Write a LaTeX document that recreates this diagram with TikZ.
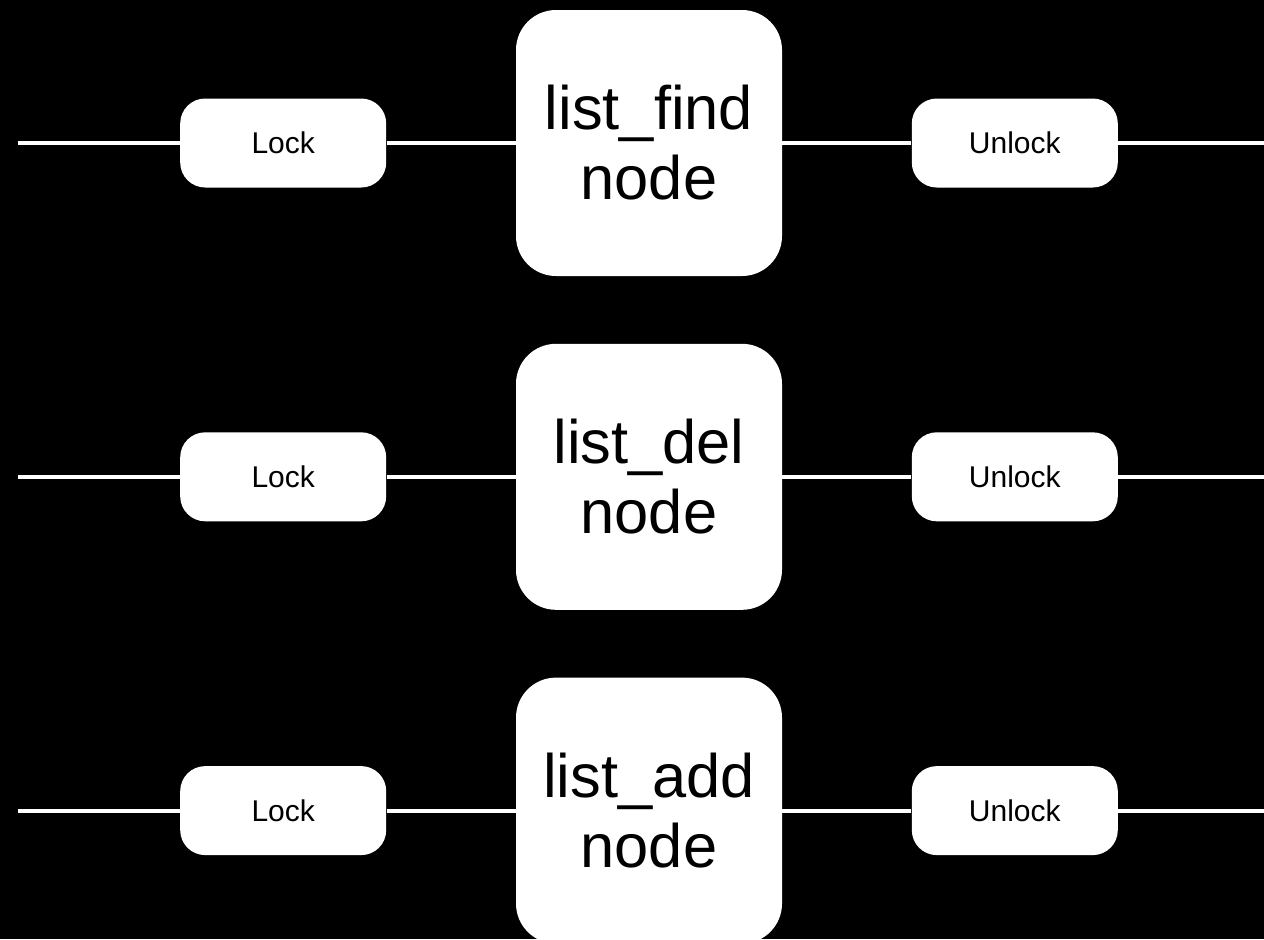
\documentclass[tikz,border=0pt]{standalone}
\usepackage{fontspec}
\setmainfont{Liberation Sans}
\usetikzlibrary{positioning}

\begin{document}
\begin{tikzpicture}[x=0.5pt, y=-0.5pt, node distance=33.5pt and 64.5pt,
    opbox/.style={rectangle, fill=white, text=black, rounded corners=20pt, minimum width=133pt, minimum height=133pt, align=center, font=\fontsize{30.7}{35}\selectfont},
    lockbox/.style={rectangle, fill=white, text=black, rounded corners=12.5pt, minimum width=103pt, minimum height=44.5pt, font=\fontsize{15}{18}\selectfont},
    wire/.style={white, line width=2pt}]

    \useasboundingbox[fill=black] (0,0) rectangle (1264,939);

    \node[opbox] (find) at (649,143) {list\_find\\node};
    \node[opbox, below=of find] (del) {list\_del\\node};
    \node[opbox, below=of del] (add) {list\_add\\node};

    \node[lockbox, left=of find] (lockfind) {Lock};
    \node[lockbox, right=of find] (unlockfind) {Unlock};
    \node[lockbox, left=of del] (lockdel) {Lock};
    \node[lockbox, right=of del] (unlockdel) {Unlock};
    \node[lockbox, left=of add] (lockadd) {Lock};
    \node[lockbox, right=of add] (unlockadd) {Unlock};

    \coordinate[left=81pt of lockfind] (infind);
    \coordinate[right=73.5pt of unlockfind] (outfind);
    \coordinate[left=81pt of lockdel] (indel);
    \coordinate[right=73.5pt of unlockdel] (outdel);
    \coordinate[left=81pt of lockadd] (inadd);
    \coordinate[right=73.5pt of unlockadd] (outadd);

    \draw[wire] (infind) -- (lockfind) (lockfind) -- (find) (find) -- (unlockfind) (unlockfind) -- (outfind);
    \draw[wire] (indel) -- (lockdel) (lockdel) -- (del) (del) -- (unlockdel) (unlockdel) -- (outdel);
    \draw[wire] (inadd) -- (lockadd) (lockadd) -- (add) (add) -- (unlockadd) (unlockadd) -- (outadd);
\end{tikzpicture}
\end{document}
